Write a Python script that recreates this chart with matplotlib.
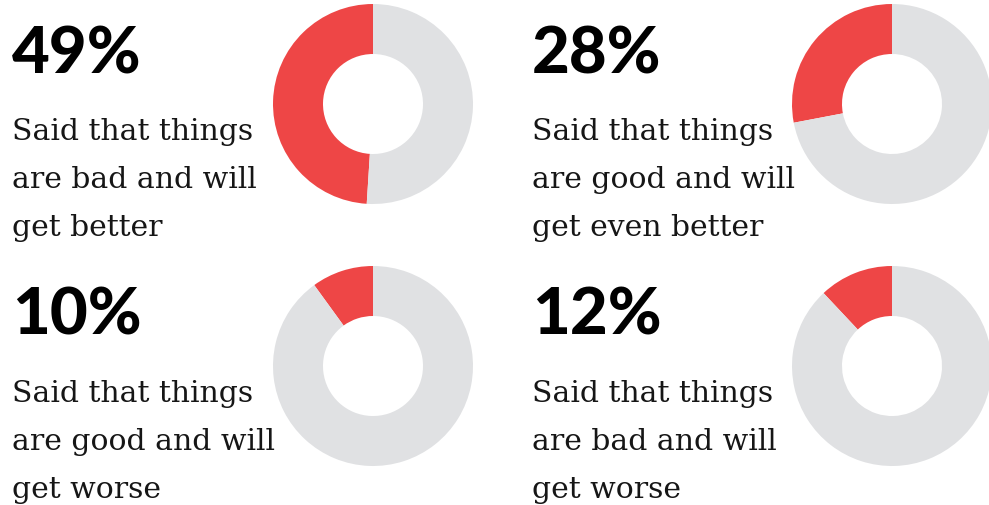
import matplotlib
matplotlib.use("Agg")
import matplotlib.pyplot as plt

# values
percents = [49, 28, 10, 12]
descriptions = [
    "Said that things\nare bad and will\nget better",
    "Said that things\nare good and will\nget even better",
    "Said that things\nare good and will\nget worse",
    "Said that things\nare bad and will\nget worse",
]

RED = "#ee4646"
GREY = "#e0e1e3"
W, H = 989, 506

fig = plt.figure(figsize=(W / 100, H / 100), dpi=100)
fig.patch.set_facecolor("white")


def fx(x):
    return x / W


def fy(y):
    return 1 - y / H


# panel anchors: text left, big number baseline, donut centre
panels = [
    (12, 73, 373, 105),
    (532, 73, 892, 105),
    (12, 335, 373, 367),
    (532, 335, 892, 367),
]
R = 100

for (tx, ty, cx, cy), pct, desc in zip(panels, percents, descriptions):
    fig.text(fx(tx), fy(ty), f"{pct}%", fontsize=47, fontweight="black",
             family=["Lato", "DejaVu Sans"], color="black", va="baseline")
    for i, line in enumerate(desc.split("\n")):
        fig.text(fx(tx), fy(ty + 67 + 48 * i), line, fontsize=21.5,
                 family="DejaVu Serif", color="#161616", va="baseline")

    ax = fig.add_axes([fx(cx - R), fy(cy + R), 2 * R / W, 2 * R / H])
    ax.pie([pct, 100 - pct], colors=[RED, GREY], startangle=90,
           counterclock=True, radius=1, wedgeprops=dict(width=0.5, linewidth=0))
    ax.set_xlim(-1, 1)
    ax.set_ylim(-1, 1)
    ax.axis("off")

fig.savefig("out.png", dpi=100)
